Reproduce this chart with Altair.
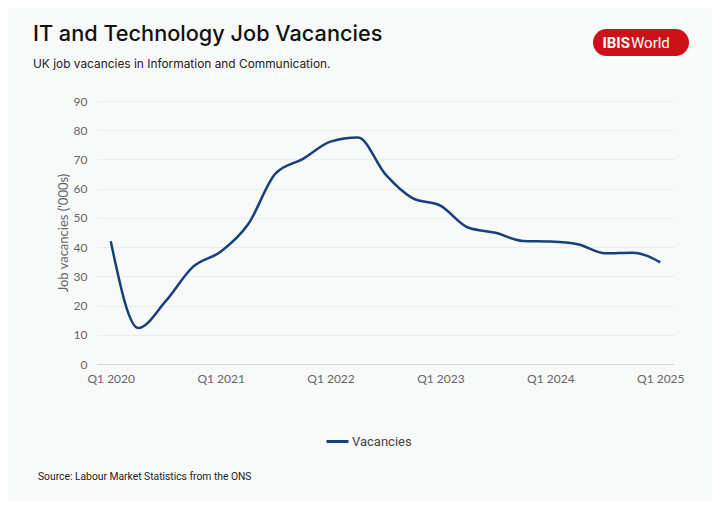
import altair as alt
import pandas as pd

# ---- data ----
quarters = [
    "Q1 2020", "Q2 2020", "Q3 2020", "Q4 2020",
    "Q1 2021", "Q2 2021", "Q3 2021", "Q4 2021",
    "Q1 2022", "Q2 2022", "Q3 2022", "Q4 2022",
    "Q1 2023", "Q2 2023", "Q3 2023", "Q4 2023",
    "Q1 2024", "Q2 2024", "Q3 2024", "Q4 2024",
    "Q1 2025",
]
vacancies = [
    42.0, 12.3, 21.5, 33.3,
    38.4, 47.8, 65.2, 70.2,
    76.1, 77.5, 64.9, 56.7,
    54.2, 46.7, 44.9, 42.1,
    41.9, 41.0, 37.9, 38.1,
    34.8,
]
series_name = ["Vacancies"]
tick_positions = [0, 4, 8, 12, 16, 20]
y_ticks = [0, 10, 20, 30, 40, 50, 60, 70, 80, 90]
title_text = ["IT and Technology Job Vacancies"]
subtitle_text = ["UK job vacancies in Information and Communication."]
source_text = ["Source: Labour Market Statistics from the ONS"]
logo_parts = ["IBIS", "World"]

df = pd.DataFrame({
    "idx": list(range(len(quarters))),
    "quarter": quarters,
    "value": vacancies,
    "series": series_name * len(quarters),
})

label_map = "{" + ",".join(f"'{i}':'{q}'" for i, q in enumerate(quarters)) + "}"

AXIS_FONT = "Lato"
LINE_COLOR = "#173f7c"

line = alt.Chart(df).mark_line(interpolate="monotone", strokeWidth=2.5).encode(
    x=alt.X(
        "idx:Q",
        scale=alt.Scale(domain=[-0.5, len(quarters) - 0.5], nice=False, zero=False),
        axis=alt.Axis(
            values=tick_positions,
            labelExpr=label_map + "[''+datum.value]",
            grid=False, ticks=False,
            domainColor="#d5d8d8", domainWidth=1,
            labelPadding=9, labelFontSize=12, labelColor="#666666", labelFont=AXIS_FONT,
            title=None,
        ),
    ),
    y=alt.Y(
        "value:Q",
        scale=alt.Scale(domain=[0, 90], nice=False),
        axis=alt.Axis(
            values=y_ticks,
            title="Job vacancies ('000s)",
            domain=False, ticks=False,
            gridColor="#ebeded", gridWidth=1,
            labelPadding=10, labelFontSize=12, labelColor="#666666", labelFont=AXIS_FONT,
            titleFont=AXIS_FONT, titleFontSize=13, titleFontWeight="normal",
            titleColor="#666666", titlePadding=3,
        ),
    ),
    color=alt.Color(
        "series:N",
        scale=alt.Scale(range=[LINE_COLOR]),
        legend=alt.Legend(
            title=None, orient="none", legendX=228, legendY=328,
            symbolType="stroke", symbolSize=484, symbolStrokeWidth=3,
            labelFontSize=13, labelColor="#444444", labelFont="Roboto", labelOffset=2,
        ),
    ),
)

one = pd.DataFrame({"k": [0]})

title = alt.Chart(pd.DataFrame({"t": title_text})).mark_text(
    align="left", baseline="alphabetic", font="Inter", fontSize=21.7, fontWeight=500, color="#111111"
).encode(x=alt.value(-64), y=alt.value(-60), text="t:N")
subtitle = alt.Chart(pd.DataFrame({"t": subtitle_text})).mark_text(
    align="left", baseline="alphabetic", font="Inter", fontSize=11.9, color="#222222"
).encode(x=alt.value(-64), y=alt.value(-33), text="t:N")

pill = alt.Chart(one).mark_rect(cornerRadius=13.5, color="#cc1118").encode(
    x=alt.value(496), x2=alt.value(592), y=alt.value(-72), y2=alt.value(-45)
)
logo_a = alt.Chart(pd.DataFrame({"t": [logo_parts[0]]})).mark_text(
    align="right", baseline="middle", font="Roboto", fontWeight="bold", fontSize=15, color="white"
).encode(x=alt.value(533), y=alt.value(-58), text="t:N")
logo_b = alt.Chart(pd.DataFrame({"t": [logo_parts[1]]})).mark_text(
    align="left", baseline="middle", font="Roboto", fontWeight="normal", fontSize=15, color="white"
).encode(x=alt.value(534), y=alt.value(-58), text="t:N")

source = alt.Chart(pd.DataFrame({"t": source_text})).mark_text(
    align="left", baseline="middle", font="Roboto", fontSize=10.3, color="#222222"
).encode(x=alt.value(-59), y=alt.value(376), text="t:N")

chart = alt.layer(line, title, subtitle, pill, logo_a, logo_b, source).properties(
    width=577,
    height=263,
    autosize=alt.AutoSizeParams(type="none"),
    padding={"left": 89, "top": 93, "right": 38, "bottom": 137},
    background="#f8f9f9",
).configure_view(stroke=None)

chart.save("out.html", embed_options={"renderer": "svg", "actions": False})
